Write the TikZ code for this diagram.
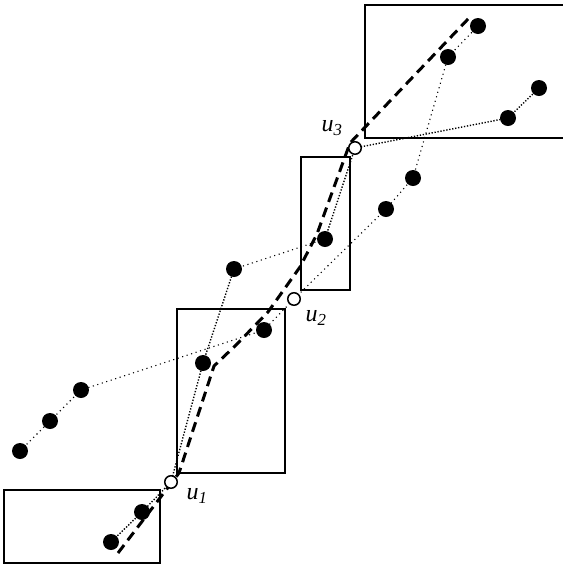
\documentclass[tikz,border=0pt]{standalone}
\usepackage{fontspec}
\setmainfont{Liberation Serif}
\begin{document}
\begin{tikzpicture}[x=1pt,y=-1pt,
  frame/.style={draw=black,line width=1.6pt},
  dot/.style={circle,fill=black,inner sep=0pt,minimum size=16pt},
  hollow/.style={circle,draw=black,fill=white,line width=1.5pt,inner sep=0pt,minimum size=12.5pt},
  dense/.style={line width=1.4pt,dash pattern=on 1.3pt off 1.7pt},
  sparse/.style={line width=1.1pt,dash pattern=on 1.1pt off 3.6pt},
  route/.style={line width=3pt,dash pattern=on 10pt off 6pt},
  lbl/.style={font=\fontsize{24}{26}\selectfont\itshape,inner sep=0pt}]
\useasboundingbox (0,0) rectangle (563,566);
\fill[white] (0,0) rectangle (563,566);
% boxes
\draw[frame] (4,490) rectangle (160,563);
\draw[frame] (177,309) rectangle (285,473);
\draw[frame] (301,157) rectangle (350,290);
\draw[frame] (566,5) -- (365,5) -- (365,138) -- (566,138);
% points
\coordinate (p1) at (111,542);
\coordinate (p2) at (142,512);
\coordinate (p3) at (20,451);
\coordinate (p4) at (50,421);
\coordinate (p5) at (81,390);
\coordinate (p6) at (203,363);
\coordinate (p7) at (264,330);
\coordinate (p8) at (234,269);
\coordinate (p9) at (325,239);
\coordinate (p10) at (386,209);
\coordinate (p11) at (413,178);
\coordinate (p12) at (448,57);
\coordinate (p13) at (478,26);
\coordinate (p14) at (508,118);
\coordinate (p15) at (539,88);
\coordinate (q1) at (171,482);
\coordinate (q2) at (294,299);
\coordinate (q3) at (355,148);
% dotted paths
\draw[dense] (p1) -- (p2) -- (q1);
\draw[sparse] (p3) -- (p4) -- (p5) -- (p7) -- (q2);
\draw[dense] (q1) -- (p6) -- (p8);
\draw[sparse] (p8) -- (p9);
\draw[dense] (p9) -- (q3);
\draw[sparse] (q2) -- (p10) -- (p11) -- (p12) -- (p13);
\draw[dense] (q3) -- (p14) -- (p15);
% dashed route
\coordinate (r0) at (118,553);
\coordinate (r1) at (179,473);
\coordinate (r2) at (214,366);
\coordinate (r3) at (236,345);
\coordinate (r4) at (268,312);
\coordinate (r5) at (300,267);
\coordinate (r6) at (317,234);
\coordinate (r7) at (350,143);
\coordinate (r8) at (469,18);
\draw[route] (r0) -- (r1) -- (r2) -- (r3) -- (r4) -- (r5) -- (r6) -- (r7) -- (r8);
% nodes
\foreach \i in {1,...,15} \node[dot] (n\i) at (p\i) {};
\node[hollow] (u1) at (q1) {};
\node[hollow] (u2) at (q2) {};
\node[hollow] (u3) at (q3) {};
\node[lbl] (l1) at (197,496) {u\textsubscript{1}};
\node[lbl] (l2) at (316,318) {u\textsubscript{2}};
\node[lbl] (l3) at (332,128) {u\textsubscript{3}};
\end{tikzpicture}
\end{document}
